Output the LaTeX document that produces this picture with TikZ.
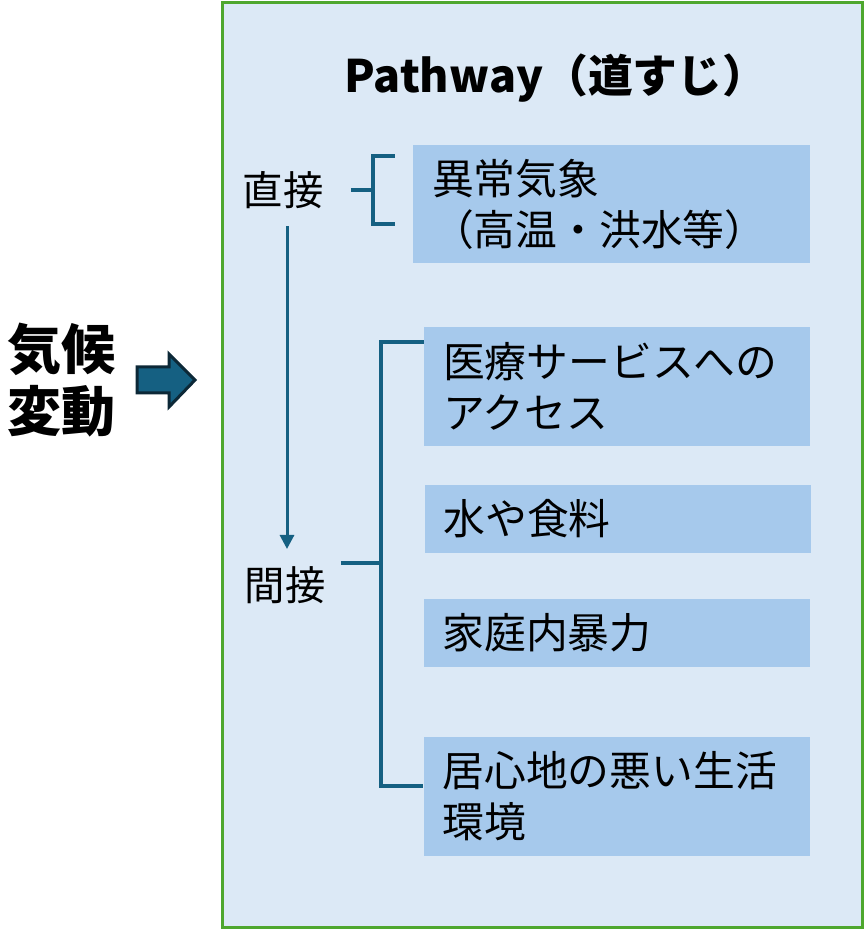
\documentclass[tikz,border=0pt]{standalone}
\usepackage{fontspec}
\setmainfont{Noto Sans CJK JP}
\usetikzlibrary{arrows.meta, positioning, calc}
\definecolor{colPanel}{RGB}{220, 233, 246}
\definecolor{colBox}{RGB}{166, 201, 236}
\definecolor{colGreen}{RGB}{78, 167, 46}
\definecolor{colLine}{RGB}{21, 96, 130}
\definecolor{colDark}{RGB}{12, 40, 55}
\tikzset{
    panel/.style={fill=colPanel, draw=colGreen, line width=1.5pt},
    itembox/.style={fill=colBox, align=left, inner xsep=9.5pt, inner ysep=0pt,
        text width=174pt, font=\fontsize{20.9}{25.5}\selectfont},
    kind/.style={font=\fontsize{20.2}{25}\selectfont},
    bracket/.style={draw=colLine, line width=2pt},
    flow/.style={draw=colLine, line width=1.5pt, -{Triangle[width=7pt,length=7pt]}},
    blockarrow/.style={fill=colLine, draw=colDark, line width=1.5pt, line join=miter}
}

\begin{document}
\begin{tikzpicture}[x=0.5pt, y=-0.5pt, every node/.style={inner sep=0pt}]
    \useasboundingbox (0,0) rectangle (865,929);

    % --- Climate change + arrow ---
    \node[align=center, font=\bfseries\fontsize{27}{31}\selectfont] (climate) at (61,380) {気候\\変動};
    \draw[blockarrow] (137,367) -- (169,367) -- (169,354) -- (195,380)
        -- (169,407) -- (169,393) -- (137,393) -- cycle;

    % --- Pathway panel ---
    \draw[panel] (222,2.5) rectangle (862,927);
    \node[font=\bfseries\fontsize{22.4}{26}\selectfont] (title) at (556,78) {Pathway（道すじ）};

    % --- Direct / indirect ---
    \node[kind] (direct) at (283,190) {直接};
    \node[kind] (indirect) at (285,585) {間接};
    \draw[flow] ([xshift=2pt,yshift=-8.5pt]direct.south) -- ([xshift=1pt,yshift=8.5pt]indirect.north);

    % --- Boxes ---
    \node[itembox, text width=179.5pt, minimum height=59pt] (weather) at (611.5,204)
        {異常気象\\（高温・洪水等）};
    \node[itembox, minimum height=59.5pt] (medical) at (617,386.5)
        {医療サービスへの\\アクセス};
    \node[itembox, minimum height=34pt] (food) at (617.5,519) {水や食料};
    \node[itembox, minimum height=34pt] (violence) at (616.5,633) {家庭内暴力};
    \node[itembox, minimum height=59.5pt] (home) at (616.5,796.5)
        {居心地の悪い生活\\環境};

    % --- Brackets ---
    \draw[bracket] ([xshift=-9pt,yshift=-5.5pt]weather.north west) -- ++(-11pt,0)
        |- ([xshift=-9pt,yshift=19.5pt]weather.south west);
    \draw[bracket] ([xshift=13.5pt]direct.east) -- ++(11.5pt,0);
    \draw[bracket] ([yshift=-7.5pt]medical.north west) -- ++(-21.5pt,0)
        |- ([yshift=5.25pt]home.west);
    \draw[bracket] ([xshift=7.5pt,yshift=11pt]indirect.east) -- ++(20.5pt,0);

\end{tikzpicture}
\end{document}
